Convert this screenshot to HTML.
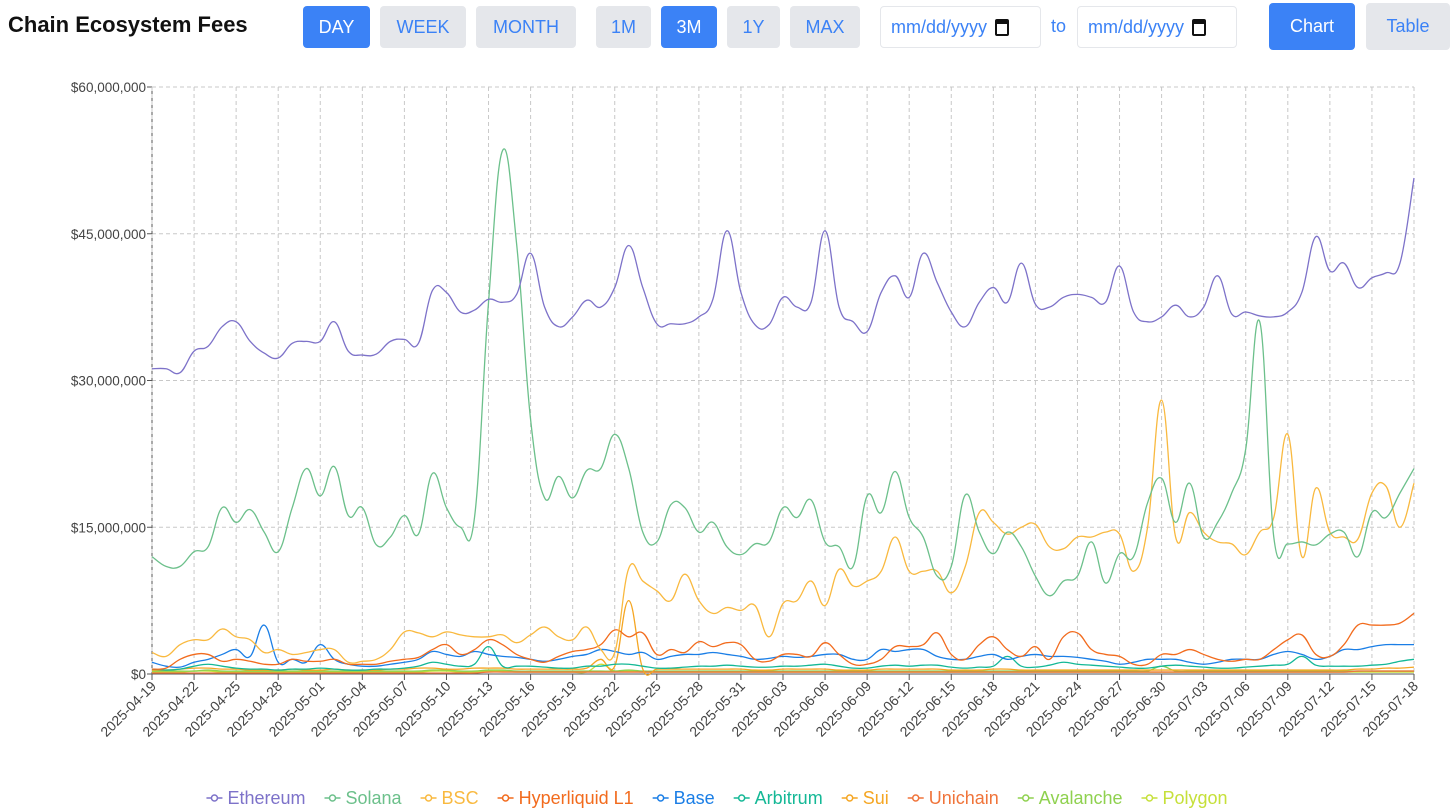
<!DOCTYPE html>
<html><head><meta charset="utf-8"><style>
body{margin:0;width:1456px;height:812px;background:#fff;font-family:"Liberation Sans",sans-serif;overflow:hidden;position:relative}
.t{position:absolute;left:8px;top:12px;font-size:22px;font-weight:bold;color:#111}
.b{position:absolute;top:6px;height:42px;border-radius:4px;background:#e5e7eb;color:#3b82f6;font-size:18px;display:flex;align-items:center;justify-content:center;box-sizing:border-box}
.b.on{background:#3b82f6;color:#fff}
.d{position:absolute;top:6px;height:42px;border:1px solid #e5e7eb;border-radius:4px;background:#fff;color:#3b82f6;font-size:18px;display:flex;align-items:center;padding-left:10px;box-sizing:border-box}
.cal{display:inline-block;width:14px;height:17px;border:2px solid #111;border-top-width:5px;border-radius:2px;margin-left:8px;box-sizing:border-box}
</style></head><body>
<div class="t">Chain Ecosystem Fees</div>
<div class="b on" style="left:303px;width:67px">DAY</div>
<div class="b" style="left:380px;width:86px">WEEK</div>
<div class="b" style="left:476px;width:100px">MONTH</div>
<div class="b" style="left:596px;width:55px">1M</div>
<div class="b on" style="left:661px;width:56px">3M</div>
<div class="b" style="left:727px;width:53px">1Y</div>
<div class="b" style="left:790px;width:70px">MAX</div>
<div class="d" style="left:880px;width:161px">mm/dd/yyyy<span class="cal"></span></div>
<div style="position:absolute;left:1051px;top:16px;font-size:18px;color:#3b82f6">to</div>
<div class="d" style="left:1077px;width:160px">mm/dd/yyyy<span class="cal"></span></div>
<div class="b on" style="left:1269px;width:86px;top:3px;height:47px">Chart</div>
<div class="b" style="left:1366px;width:84px;top:3px;height:47px">Table</div>
<svg id="c" width="1456" height="812" style="position:absolute;left:0;top:0"></svg>
<script>
const names=["Ethereum","Solana","BSC","Hyperliquid L1","Base","Arbitrum","Sui","Unichain","Avalanche","Polygon"];
const colors=["#7d72c9","#6cc08b","#f9b93f","#f26b1d","#1a7ee6","#14b896","#f5a623","#f0743a","#8fd14f","#c6e03a"];
const yTicks=[0,15,30,45,60];
const ethereum=[31.2,31.2,30.8,33,33.5,35.5,36,34,32.8,32.3,33.8,34,34,36,33,32.6,32.7,34,34.2,33.8,39.2,39,37,37.2,38.3,38,38.8,43,37.5,35.5,36.5,38.2,37.5,39.5,43.8,39.5,35.8,35.8,35.8,36.5,38.3,45.3,39,35.7,35.7,38.5,37.5,38,45.3,37.5,36,35,39,40.7,38.5,43,40,37,35.5,38,39.5,38,42,37.8,37.5,38.5,38.8,38.5,38,41.7,37,36,36.5,37.7,36.5,37.5,40.7,36.8,37,36.6,36.5,37,39,44.7,41.2,42,39.5,40.5,41,42,50.7];
const solana=[12,11,11,12.5,13,17,15.5,16.8,14.5,12.5,17,21,18.2,21.2,16.2,17,13.2,14,16.2,14.3,20.5,17,15,16,38,53.5,44,26,18,20.2,18,20.8,21,24.5,21,14.5,13.5,17.3,17,14.5,15.5,13,12.2,13.3,13.5,17,16,17.8,13.5,13,11,18.2,16.5,20.7,16,14,10,11,18.3,14.5,12.3,14.5,13,10,8,9.5,10,13.5,9.3,12.3,12,17.5,20,15.5,19.5,14,15.5,18.5,23,36,14,13.3,13.5,13.2,14.3,14.5,12,16.5,16,18.5,21];
const bsc=[2.2,1.8,3,3.5,3.5,4.6,3.8,3.5,2.2,2.5,2,2.2,2.5,2.5,1.2,1.3,1.5,2.5,4.3,4.2,3.8,4.3,4,3.8,3.8,4,3.2,4,4.8,3.8,3.5,4.8,2.5,2.2,10.8,9.5,8.5,7.5,10.2,7.5,6.2,6.8,6.5,7,3.8,7.2,7.5,9.5,7,10.7,9,9.5,10.5,14,10.5,10.5,10.5,8.3,11,16.5,15.5,14.3,15,15.3,13,12.8,14,14,14.5,14.3,10.5,15,28,14,16.5,14.5,13.5,13.3,12.2,14.5,16,24.5,12,19,14.5,14,13.8,18.5,19.2,15,19.5];
const hyperliquid=[0.5,0.6,1.5,2,2,1.3,1.5,1.3,1,1,1.5,1.3,1.3,1.5,1,1,1,1.3,1.5,1.7,2.5,3,2,2.5,3.5,3,2,1.5,1.2,1.8,2.3,2.5,3,4.5,3.8,4.2,2,2.5,2.2,3.3,2.8,3.2,3,1.5,1.3,2,2,1.8,3.2,2,1,1,1.5,2.8,2.8,3,4.2,2,1.5,3,3.8,2.5,1.8,2.8,1.5,3.8,4.2,2.5,2,1.8,1,1,2,2,2.5,2,1.5,1.3,1.5,1.5,2.5,3.5,4,2,1.8,3,5,5,5,5.2,6.2];
const base=[1.2,0.8,0.7,1.2,1.5,2,2.5,1.8,5,1.2,1.5,1.2,3,1.5,1,0.8,0.8,1,1.2,1.5,2.3,2,1.8,2.3,2,1.8,1.7,1.5,1.3,1.5,1.8,2,2.5,2.3,2,2.2,1.5,1.8,2,2,2.2,2,1.8,1.5,1.6,1.8,1.7,1.8,2,2,1.5,1.5,2.5,2.3,2.5,2.5,1.8,1.5,1.5,1.8,2,1.5,1.8,2,1.8,1.8,1.7,1.5,1.3,1,1.2,1.5,1.5,1.5,1.2,1,1.2,1.5,1.5,1.5,2,2.3,2,1.5,1.8,2.5,2.5,2.8,3,3,3];
const arbitrum=[0.5,0.4,0.5,0.8,1,0.8,0.6,0.5,0.5,0.4,0.5,0.5,0.6,0.5,0.4,0.4,0.5,0.5,0.6,0.8,1.2,1,0.8,1,2.8,0.8,0.8,0.8,0.7,0.6,0.6,0.8,0.8,1,1,0.8,0.6,0.6,0.7,0.8,0.8,0.9,0.8,0.7,0.7,0.8,0.8,0.9,1,0.8,0.6,0.6,0.8,0.9,0.8,0.9,0.9,0.7,0.6,0.7,0.8,1.8,0.8,0.7,0.9,1.2,1,0.9,0.8,0.7,0.6,0.6,0.8,0.9,0.8,0.7,0.6,0.6,0.7,0.8,0.9,1,1.8,0.9,0.8,0.8,0.8,0.9,1,1.3,1.5];
const sui=[0.4,0.4,0.5,0.6,0.6,0.5,0.5,0.4,0.4,0.4,0.5,0.4,0.4,0.5,0.4,0.4,0.4,0.5,0.5,0.6,0.6,0.5,0.5,0.6,0.6,0.6,0.5,0.5,0.5,0.5,0.5,0.6,1.5,0.8,7.5,0.5,0.5,0.5,0.5,0.5,0.5,0.5,0.5,0.4,0.4,0.5,0.5,0.5,0.5,0.4,0.4,0.4,0.5,0.5,0.5,0.5,0.5,0.4,0.4,0.4,0.5,0.5,0.4,0.4,0.4,0.4,0.4,0.4,0.4,0.4,0.4,0.4,0.4,0.4,0.4,0.4,0.4,0.4,0.4,0.4,0.4,0.4,0.4,0.4,0.4,0.4,0.5,0.5,0.6,0.6,0.7];
const unichain=[0.1,0.1,0.1,0.1,0.1,0.1,0.1,0.1,0.1,0.1,0.1,0.1,0.1,0.1,0.1,0.1,0.1,0.1,0.1,0.1,0.1,0.1,0.1,0.1,0.2,0.2,0.2,0.2,0.2,0.2,0.2,0.2,0.2,0.2,0.2,0.2,0.2,0.2,0.2,0.2,0.2,0.2,0.2,0.2,0.2,0.2,0.2,0.2,0.2,0.2,0.2,0.2,0.2,0.2,0.2,0.2,0.2,0.2,0.2,0.2,0.2,0.2,0.2,0.2,0.2,0.2,0.2,0.2,0.2,0.2,0.2,0.2,0.2,0.2,0.2,0.2,0.2,0.2,0.2,0.2,0.2,0.2,0.2,0.2,0.2,0.2,0.3,0.3,0.3,0.3,0.3];
const avalanche=[0.3,0.3,0.3,0.3,0.4,0.3,0.3,0.3,0.3,0.3,0.3,0.3,0.3,0.3,0.3,0.3,0.3,0.3,0.3,0.3,0.4,0.4,0.3,0.3,0.4,0.4,0.3,0.3,0.3,0.3,0.3,0.3,0.3,0.3,0.4,0.3,0.3,0.3,0.3,0.3,0.3,0.3,0.3,0.3,0.3,0.3,0.3,0.3,0.3,0.3,0.3,0.3,0.3,0.3,0.3,0.3,0.3,0.3,0.3,0.3,0.3,0.3,0.3,0.3,0.3,0.3,0.3,0.3,0.3,0.3,0.3,0.3,0.8,0.3,0.3,0.3,0.3,0.3,0.3,0.3,0.3,0.3,0.3,0.3,0.3,0.3,0.3,0.3,0.3,0.3,0.3];
const polygon=[0.2,0.2,0.2,0.3,0.3,0.2,0.2,0.2,0.2,0.2,0.2,0.2,0.2,0.2,0.2,0.2,0.2,0.2,0.2,0.2,0.3,0.3,0.2,0.2,0.3,0.3,0.2,0.2,0.2,0.2,0.2,0.2,1,0.3,0.3,0.2,0.2,0.2,0.2,0.2,0.2,0.2,0.2,0.2,0.2,0.2,0.2,0.2,0.2,0.2,0.2,0.2,0.2,0.2,0.2,0.2,0.2,0.2,0.2,0.2,0.2,0.2,0.2,0.2,0.2,0.2,0.2,0.2,0.2,0.2,0.2,0.2,0.2,0.2,0.2,0.2,0.2,0.2,0.2,0.2,0.2,0.2,0.2,0.2,0.2,0.2,0.2,0.2,0.2,0.2,0.2];
const series=[ethereum,solana,bsc,hyperliquid,base,arbitrum,sui,unichain,avalanche,polygon];
const startDate=Date.UTC(2025,3,19);const nDays=ethereum.length;
const L=152,R=1414,T=87,B=674;
const X=i=>L+(R-L)*i/(nDays-1);
const Y=v=>B-(B-T)*v/60;
const svg=document.getElementById('c');const NS="http://www.w3.org/2000/svg";
function mk(t,a,p){const e=document.createElementNS(NS,t);for(const k in a)e.setAttribute(k,a[k]);(p||svg).appendChild(e);return e;}
const fmt=v=>"$"+(v*1e6).toLocaleString("en-US");
yTicks.forEach(v=>{
 const g=mk('line',{x1:L,x2:R,y1:Y(v),y2:Y(v),stroke:v?'#c8c8c8':'#555','stroke-dasharray':v?'4,3':'', 'stroke-width':1});
 
 mk('line',{x1:L-5,x2:L,y1:Y(v),y2:Y(v),stroke:'#555'});
 const t=mk('text',{x:L-6,y:Y(v)+5,'text-anchor':'end','font-size':13.5,fill:'#444'});t.textContent=fmt(v);
 
});
mk('line',{x1:L,x2:L,y1:T,y2:B,stroke:'#555'});
for(let i=0;i<nDays;i+=3){
 const x=X(i);
 const g=mk('line',{x1:x,x2:x,y1:T,y2:B,stroke:'#c8c8c8','stroke-dasharray':'4,3'});
 
 mk('line',{x1:x,x2:x,y1:B,y2:B+6,stroke:'#555'});
 const d=new Date(startDate+i*864e5).toISOString().slice(0,10);
 const t=mk('text',{x:x+5,y:B+13,'text-anchor':'end','font-size':14,fill:'#444',transform:`rotate(-45 ${x+5} ${B+13})`});t.textContent=d;
 
}
function path(arr){const p=arr.map((v,i)=>[X(i),Y(v)]);let d=`M${p[0][0]},${p[0][1]}`;
 for(let i=0;i<p.length-1;i++){const p0=p[i-1]||p[i],p1=p[i],p2=p[i+1],p3=p[i+2]||p2;const k=0.2;
 d+=` C${p1[0]+(p2[0]-p0[0])*k},${p1[1]+(p2[1]-p0[1])*k} ${p2[0]-(p3[0]-p1[0])*k},${p2[1]-(p3[1]-p1[1])*k} ${p2[0]},${p2[1]}`;}return d;}
for(let s=series.length-1;s>=0;s--){
 const e=mk('path',{d:path(series[s]),fill:'none',stroke:colors[s],'stroke-width':1.3});
 
 
}
// legend
const lg=mk('g',{});
let lx=0;
names.forEach((n,i)=>{
 const g=mk('g',{},lg);
 
 
 mk('line',{x1:lx,x2:lx+16,y1:798,y2:798,stroke:colors[i],'stroke-width':1.5},g);
 mk('circle',{cx:lx+8,cy:798,r:3,fill:'#fff',stroke:colors[i],'stroke-width':1.5},g);
 const t=mk('text',{x:lx+21,y:804,'font-size':18,fill:colors[i]},g);t.textContent=n;
 lx+=21+t.getComputedTextLength()+19;
});
const tw=lx-19;lg.setAttribute('transform',`translate(${(L+R)/2-tw/2-66},0)`);
</script>
</body></html>
